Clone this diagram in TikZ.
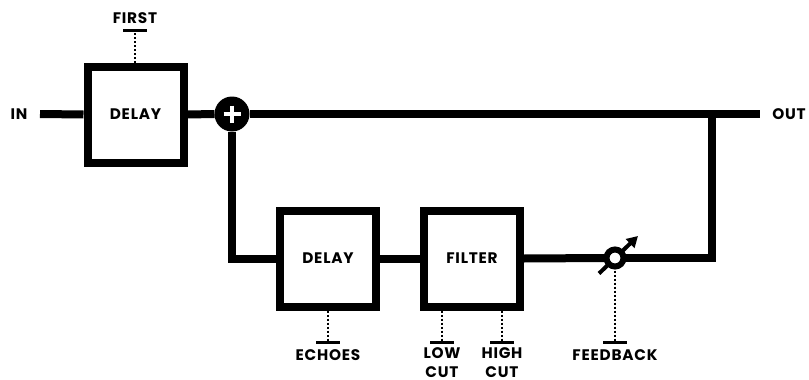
\documentclass[tikz,border=0pt]{standalone}
\usepackage{fontspec}
\setmainfont{Poppins}[LetterSpace=5.0]
\usetikzlibrary{arrows.meta,calc,backgrounds}
\begin{document}
\begin{tikzpicture}[x=1pt,y=-1pt,
  lbl/.style={font=\bfseries\fontsize{15.3}{18.5}\selectfont, inner sep=0pt, align=center},
  blk/.style={draw, line width=8pt, minimum width=96pt, minimum height=96pt, inner sep=0pt, fill=white, font=\bfseries\fontsize{15.3}{18.5}\selectfont},
  wire/.style={line width=8pt, line join=miter},
  ctl/.style={line width=2.5pt, dash pattern=on 2pt off 2pt},
  barline/.style={line width=2.5pt},
  sumnode/.style={circle, fill=black, minimum size=35pt, inner sep=0pt, outer sep=0pt},
  fbnode/.style={circle, draw, fill=white, line width=6pt, minimum size=17pt, inner sep=0pt, outer sep=0pt}]
\useasboundingbox (0,0) rectangle (809,380);

% nodes
\node[lbl] (in) at (19,114) {IN};
\node[lbl] (out) at (789,114) {OUT};
\node[blk] (d1) at (135.5,114.5) {DELAY};
\node[sumnode] (sum) at (232,114) {};
\node[blk] (d2) at (328,258.5) {DELAY};
\node[blk] (flt) at (472,258.5) {FILTER};
\node[fbnode] (fb) at (615,258) {};

\coordinate (inend) at (40,114);
\coordinate (outend) at (760,114);
\coordinate (tr) at (712,114);
\coordinate (br) at (712,258);
\coordinate (bl) at (232,258.5);

% wires
\draw[wire] (inend) -- (d1.west);
\draw[wire] (d1.east) -- (sum.west);
\draw[wire] (sum.east) -- (outend);
\draw[wire] (sum.south) -- (bl) -- (d2.west);
\draw[wire] (d2.east) -- (flt.west);
\draw[wire] (flt.east) -- (fb.west);
\draw[wire] (tr) -- (br) -- (fb.east);

% plus sign
\draw[white, line width=3.5pt] ($(sum)+(-8.5,0)$) -- ($(sum)+(8.5,0)$);
\draw[white, line width=3.5pt] ($(sum)+(0,-8.5)$) -- ($(sum)+(0,8.5)$);

% feedback arrow (behind the ring)
\begin{scope}[on background layer]
\draw[line width=4pt, -{Triangle[length=11pt,width=12pt]}] ($(fb)+(-16,15.5)$) -- ($(fb)+(23,-22)$);
\end{scope}

% FIRST control
\node[lbl] (first) at (135,18.5) {FIRST};
\coordinate (firstbar) at (135,30.5);
\draw[ctl] (d1.north -| firstbar) -- (firstbar);
\draw[barline] ($(firstbar)+(-12,0)$) -- ($(firstbar)+(12,0)$);

% ECHOES control
\node[lbl] (echoes) at (328,355) {ECHOES};
\coordinate (echobar) at (328,342.5);
\draw[ctl] (d2.south -| echobar) -- (echobar);
\draw[barline] ($(echobar)+(-12,0)$) -- ($(echobar)+(12,0)$);

% LOW CUT control
\node[lbl] (low) at (442,362.5) {LOW\\CUT};
\coordinate (lowbar) at (442,342.5);
\draw[ctl] (flt.south -| lowbar) -- (lowbar);
\draw[barline] ($(lowbar)+(-12,0)$) -- ($(lowbar)+(12,0)$);

% HIGH CUT control
\node[lbl] (high) at (502,362.5) {HIGH\\CUT};
\coordinate (highbar) at (502,342.5);
\draw[ctl] (flt.south -| highbar) -- (highbar);
\draw[barline] ($(highbar)+(-12,0)$) -- ($(highbar)+(12,0)$);

% FEEDBACK control
\node[lbl] (feedback) at (615,355) {FEEDBACK};
\coordinate (fbbar) at (615,342.5);
\draw[ctl] (fb.south) -- (fbbar);
\draw[barline] ($(fbbar)+(-12,0)$) -- ($(fbbar)+(12,0)$);
\end{tikzpicture}
\end{document}
